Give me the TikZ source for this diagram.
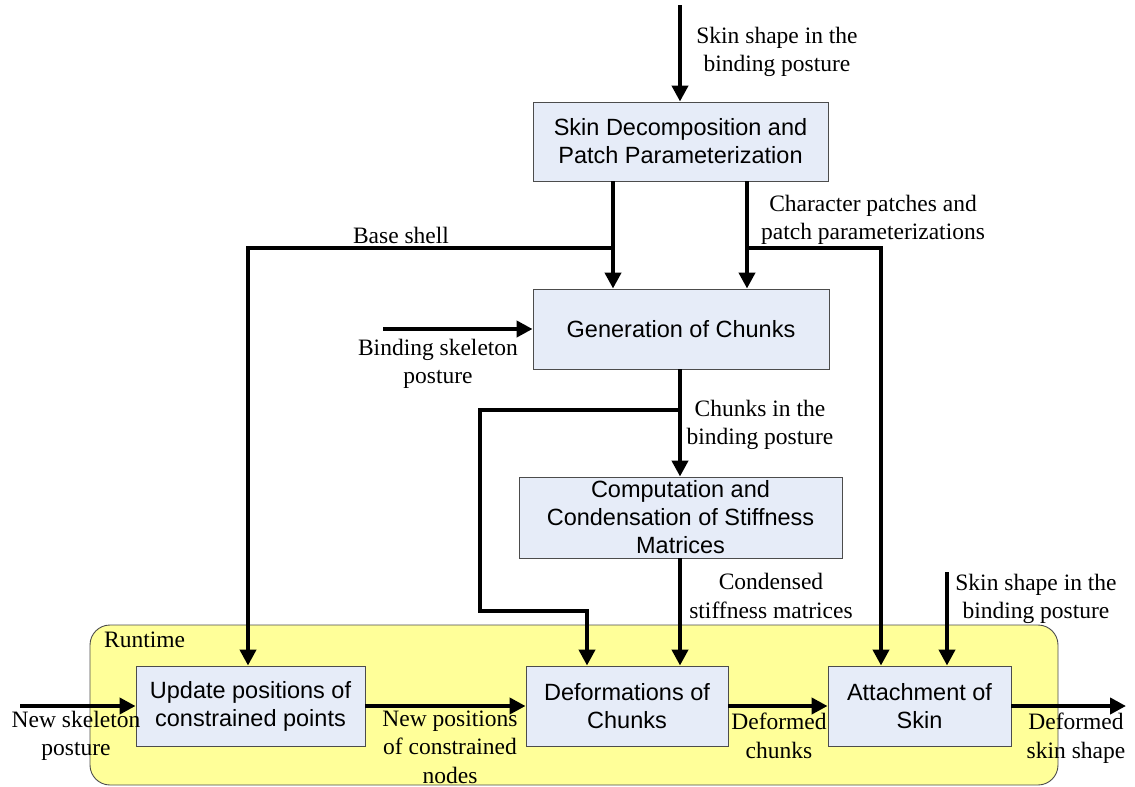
\documentclass[tikz,border=0pt]{standalone}
\usepackage{fontspec}
\setmainfont{Liberation Serif}
\newfontfamily\boxfont{Liberation Sans}
\usetikzlibrary{arrows.meta}
\definecolor{boxblue}{HTML}{E6ECF8}
\definecolor{runyellow}{HTML}{FFFF99}
\tikzset{
  proc/.style={draw=black!70, line width=0.9pt, fill=boxblue, font=\boxfont\fontsize{23.5}{28}\selectfont, align=center, inner sep=0pt},
  lbl/.style={font=\fontsize{23.5}{28.5}\selectfont, align=center, inner sep=0pt},
  arr/.style={line width=4pt, -{Triangle[length=16pt,width=16pt]}},
  plain/.style={line width=4pt},
}
\begin{document}
\begin{tikzpicture}[x=1pt,y=-1pt]
\useasboundingbox (0,0) rectangle (1135,787);
% runtime region
\node[draw=black!70, line width=0.9pt, fill=runyellow, rounded corners=20pt, minimum width=968pt, minimum height=160pt, inner sep=0pt] (rt) at (574,705) {};
\node[lbl, anchor=west] (rtl) at (104,640) {Runtime};
% boxes
\node[proc, minimum width=295pt, minimum height=79pt] (sd) at (680.5,141.5) {Skin Decomposition and\\Patch Parameterization};
\node[proc, minimum width=296pt, minimum height=80pt] (gen) at (681,329) {Generation of Chunks};
\node[proc, minimum width=323pt, minimum height=81pt] (comp) at (680.5,517.5) {Computation and\\Condensation of Stiffness\\Matrices};
\node[proc, minimum width=229pt, minimum height=80pt] (upd) at (250.5,706) {Update positions of\\constrained points};
\node[proc, minimum width=202pt, minimum height=80pt] (def) at (627,706) {Deformations of\\Chunks};
\node[proc, minimum width=183pt, minimum height=80pt] (att) at (919.5,706) {Attachment of\\Skin};
% free ends
\coordinate (topin) at (680,5);
\coordinate (bindin) at (383,329);
\coordinate (skinin) at (947,572);
\coordinate (newin) at (20,706);
\coordinate (out) at (1126,706);
% connectors
\draw[arr] (topin) -- (topin |- sd.north);
\draw[arr] (sd.south -| 613,0) -- (gen.north -| 613,0);
\draw[arr] (sd.south -| 747,0) -- (gen.north -| 747,0);
\draw[arr] (613,248) -- (248,248) -- (upd.north -| 248,0);
\draw[arr] (747,248) -- (881,248) -- (att.north -| 881,0);
\draw[arr] (bindin) -- (gen.west |- bindin);
\draw[arr] (gen.south -| 680,0) -- (comp.north -| 680,0);
\draw[arr] (680,410) -- (480,410) -- (480,611) -- (587,611) -- (def.north -| 587,0);
\draw[arr] (comp.south -| 680,0) -- (def.north -| 680,0);
\draw[arr] (skinin) -- (att.north -| skinin);
\draw[arr] (newin) -- (upd.west |- newin);
\draw[arr] (upd.east) -- (def.west);
\draw[arr] (def.east) -- (att.west);
\draw[arr] (att.east) -- (out);
% labels
\node[lbl] (l1) at (777,52) {Skin shape in the\\binding posture};
\node[lbl] (l2) at (401,235) {Base shell};
\node[lbl] (l3) at (873,220) {Character patches and\\patch parameterizations};
\node[lbl] (l4) at (438,364) {Binding skeleton\\posture};
\node[lbl] (l5) at (760,425) {Chunks in the\\binding posture};
\node[lbl] (l6) at (771,596) {Condensed\\stiffness matrices};
\node[lbl] (l7) at (1036,599) {Skin shape in the\\binding posture};
\node[lbl] (l8) at (76,736) {New skeleton\\posture};
\node[lbl] (l9) at (450,747) {New positions\\of constrained\\nodes};
\node[lbl] (l10) at (779,736) {Deformed\\chunks};
\node[lbl] (l11) at (1076,738) {Deformed\\skin shape};
\end{tikzpicture}
\end{document}
